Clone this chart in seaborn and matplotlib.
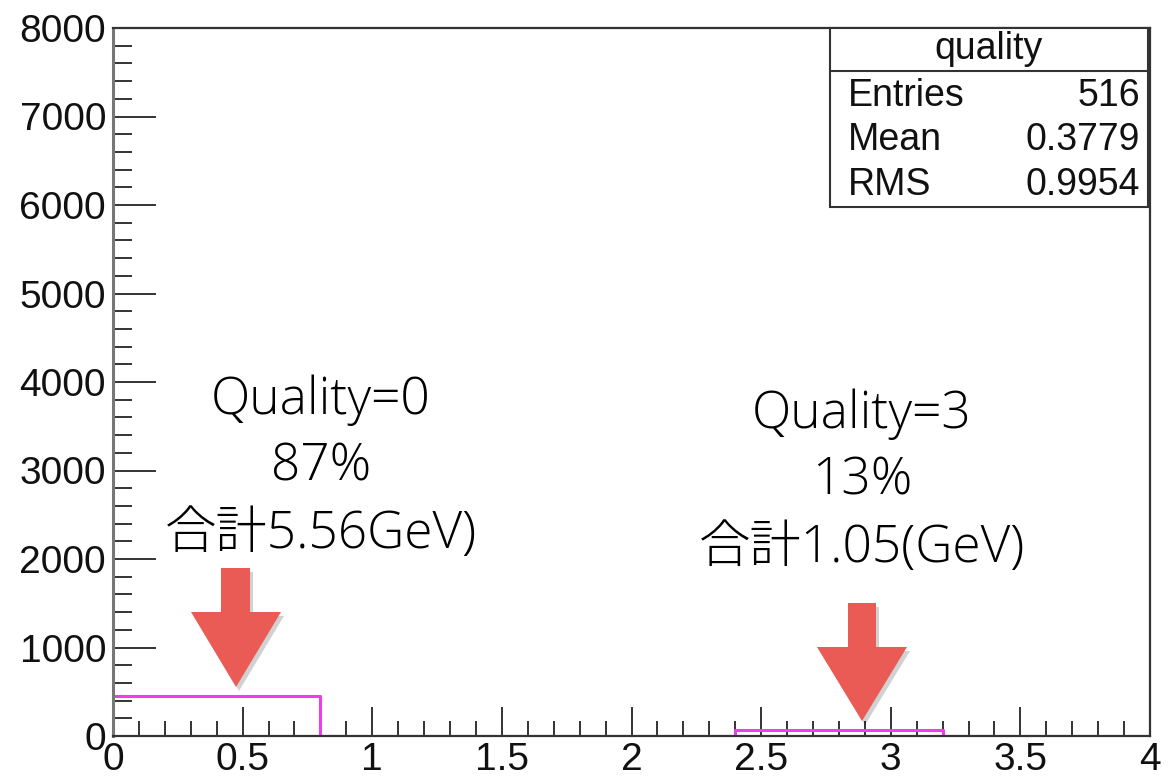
import numpy as np
import pandas as pd
import seaborn as sns
import matplotlib
matplotlib.use("Agg")
import matplotlib.pyplot as plt
from matplotlib.patches import Polygon, Rectangle
from matplotlib.ticker import MultipleLocator

# Track quality flags and how many tracks carry each flag
quality_values = [0, 3]
quality_counts = [451, 65]
bin_edges = [0.0, 0.8, 1.6, 2.4, 3.2, 4.0]

x_ticks = [0, 0.5, 1, 1.5, 2, 2.5, 3, 3.5, 4]
x_tick_labels = ["0", "0.5", "1", "1.5", "2", "2.5", "3", "3.5", "4"]
y_ticks = [0, 1000, 2000, 3000, 4000, 5000, 6000, 7000, 8000]

notes = [
    (0.5, ["Quality=0", "87%", "合計5.56GeV)"]),
    (2.85, ["Quality=3", "13%", "合計1.05(GeV)"]),
]

df = pd.DataFrame({"quality": quality_values, "count": quality_counts})

# Summary statistics for the stats box
vals = np.repeat(quality_values, quality_counts).astype(float)
entries = len(vals)
mean = vals.mean()
rms = vals.std()

sns.set_style("white")
plt.rcParams["font.family"] = ["Liberation Sans", "DejaVu Sans"]

W, H = 1168, 779
fig = plt.figure(figsize=(W / 100, H / 100), dpi=100)


def fx(px):
    return px / W


def fy(py):
    return 1 - py / H


ax = fig.add_axes([fx(113), fy(736), fx(1150) - fx(113), fy(28) - fy(736)])

sns.histplot(data=df, x="quality", weights="count", bins=bin_edges,
             element="step", fill=False, color="#F03CF0", linewidth=2.2,
             ax=ax)

ax.set_xlim(0, 4)
ax.set_ylim(0, 8000)
ax.set_xlabel("")
ax.set_ylabel("")
ax.set_xticks(x_ticks)
ax.set_xticklabels(x_tick_labels)
ax.set_yticks(y_ticks)
ax.xaxis.set_minor_locator(MultipleLocator(0.1))
ax.yaxis.set_minor_locator(MultipleLocator(200))

ax.tick_params(axis="both", which="both", direction="in", colors="#333333",
               labelcolor="#111111", labelsize=28, top=False, right=False,
               left=True, bottom=True)
ax.tick_params(axis="y", which="major", length=31, width=1.4, pad=5)
ax.tick_params(axis="y", which="minor", length=14, width=1.4)
ax.tick_params(axis="x", which="major", length=21, width=1.4, pad=4)
ax.tick_params(axis="x", which="minor", length=11, width=1.4)

for side, sp in ax.spines.items():
    sp.set_visible(True)
    sp.set_color("#333333")
    sp.set_linewidth(1.6)
    sp.set_zorder(3)
ax.spines["left"].set_color("#777777")
ax.spines["left"].set_linewidth(2.2)

# Title, mostly running off the top edge
fig.text(fx(467), fy(-8), "Quality", ha="right", va="baseline",
         fontsize=28, color="#111111")

# Stats box
box = Rectangle((fx(830), fy(207)), fx(1148) - fx(830), fy(28) - fy(207),
                transform=fig.transFigure, facecolor="white",
                edgecolor="#333333", linewidth=1.5, zorder=5)
fig.add_artist(box)
fig.add_artist(plt.Line2D([fx(830), fx(1148)], [fy(71), fy(71)],
                          transform=fig.transFigure, color="#333333",
                          linewidth=1.5, zorder=6))
fig.text(fx(989), fy(49), "quality", ha="center", va="center",
         fontsize=27, color="#111111", zorder=7)
rows = [("Entries", f"{entries}"), ("Mean", f"{mean:.4f}"),
        ("RMS", f"{rms:.4f}")]
for i, (name, val) in enumerate(rows):
    yy = fy(96 + i * 44.5)
    fig.text(fx(848), yy, name, ha="left", va="center", fontsize=27,
             color="#111111", zorder=7)
    fig.text(fx(1140), yy, val, ha="right", va="center", fontsize=27,
             color="#111111", zorder=7)

# Annotation texts
note_font = ["Open Sans", "Noto Sans CJK JP", "DejaVu Sans"]
text_centers = [(321, 400), (862, 414)]
for (cx, cy), (_, lines) in zip(text_centers, notes):
    for j, line in enumerate(lines):
        fig.text(fx(cx), fy(cy + j * 67), line, ha="center", va="center",
                 fontsize=37, fontweight="light", family=note_font,
                 color="#000000", zorder=7)

# Block arrows pointing at the bins
arrow_color = "#EA5B55"


def block_arrow(shaft_l, shaft_r, top, head_l, head_r, head_top, tip_x, tip_y):
    pts = [(shaft_l, top), (shaft_r, top), (shaft_r, head_top),
           (head_r, head_top), (tip_x, tip_y), (head_l, head_top),
           (shaft_l, head_top)]
    shadow = Polygon([(fx(x + 3), fy(y + 4)) for x, y in pts],
                     closed=True, transform=fig.transFigure,
                     facecolor="#000000", alpha=0.18, edgecolor="none",
                     zorder=7)
    fig.add_artist(shadow)
    poly = Polygon([(fx(x), fy(y)) for x, y in pts], closed=True,
                   transform=fig.transFigure, facecolor=arrow_color,
                   edgecolor="none", zorder=8)
    fig.add_artist(poly)


block_arrow(221, 250, 568, 191, 281, 612, 236, 687)
block_arrow(848, 876, 603, 817, 907, 647, 862, 721)

fig.savefig("out.png", dpi=100)
